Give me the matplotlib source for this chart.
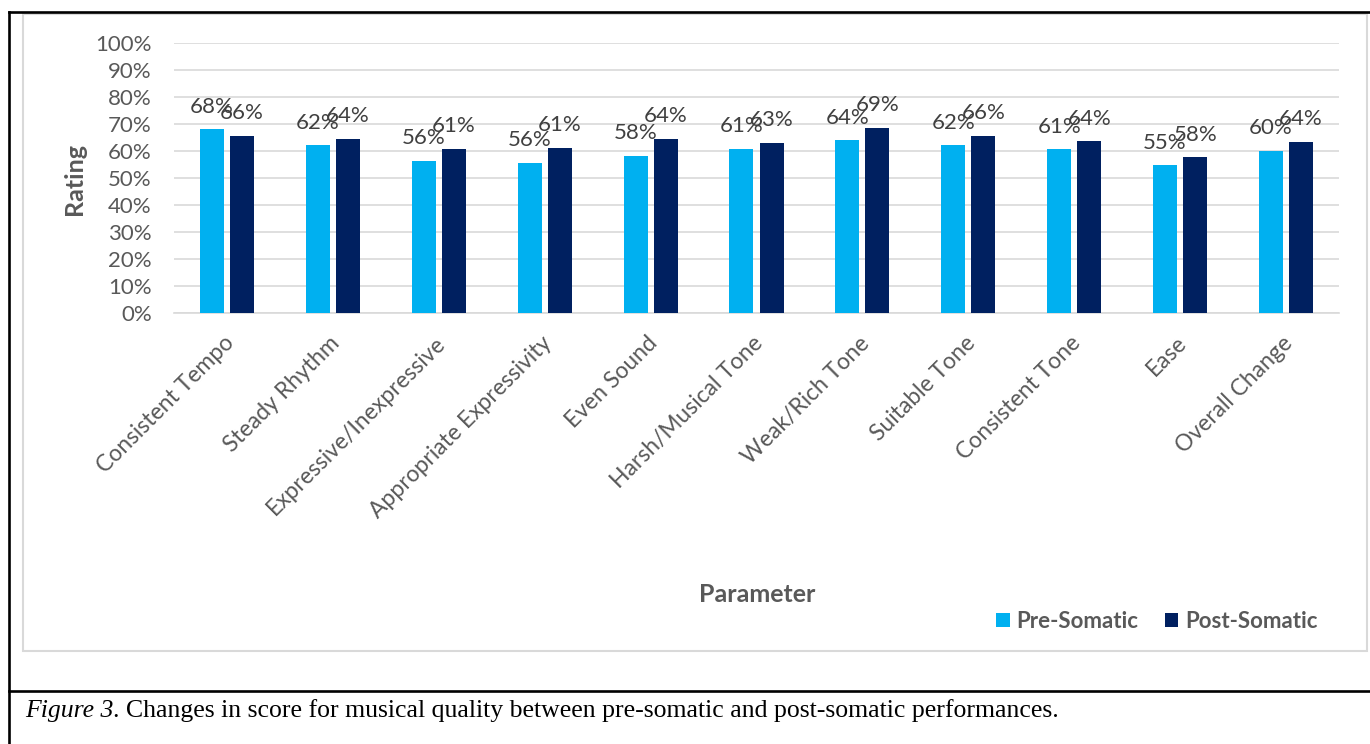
import matplotlib
matplotlib.use("Agg")
import matplotlib.pyplot as plt
import matplotlib.ticker as mticker
import matplotlib.transforms as mtrans
from matplotlib.patches import Patch, Rectangle
from matplotlib.lines import Line2D
import numpy as np

# ── Dados ───────────────────────────────────────────────────────────────────
categorias = ["Consistent Tempo", "Steady Rhythm", "Expressive/Inexpressive",
              "Appropriate Expressivity", "Even Sound", "Harsh/Musical Tone",
              "Weak/Rich Tone", "Suitable Tone", "Consistent Tone", "Ease",
              "Overall Change"]
pre_somatic = [0.680, 0.621, 0.563, 0.557, 0.583, 0.607, 0.640, 0.621, 0.606, 0.547, 0.601]
post_somatic = [0.655, 0.644, 0.607, 0.611, 0.644, 0.630, 0.687, 0.657, 0.636, 0.577, 0.635]
serie_nomes = ["Pre-Somatic", "Post-Somatic"]

COR_PRE = "#00B0F0"
COR_POS = "#002060"
COR_TXT = "#595959"
COR_GRID = "#D9D9D9"

plt.rcParams.update({
    "font.family": ["Lato", "DejaVu Sans"],
    "text.color": COR_TXT,
})

W, H = 1370, 744
fig = plt.figure(figsize=(W / 100, H / 100), dpi=100)
fig.patch.set_facecolor("white")

# área do gráfico (pixels medidos na referência)
x0, x1, y_top, y_bot = 174, 1339, 43, 313
ax = fig.add_axes([x0 / W, 1 - y_bot / H, (x1 - x0) / W, (y_bot - y_top) / H])

x = np.arange(len(categorias))
larg = 0.227
desl = 0.142
b_pre = ax.bar(x - desl, pre_somatic, larg, color=COR_PRE, zorder=3)
b_pos = ax.bar(x + desl, post_somatic, larg, color=COR_POS, zorder=3)

# rótulos de dados
for barras, vals in ((b_pre, pre_somatic), (b_pos, post_somatic)):
    for bar, v in zip(barras, vals):
        ax.annotate(f"{v:.0%}", (bar.get_x() + bar.get_width() / 2, v),
                    xytext=(0, 12), textcoords="offset points",
                    ha="center", va="baseline", fontsize=16, color="#404040",
                    annotation_clip=False, zorder=5)

ax.set_xlim(-0.5, len(categorias) - 0.5)
ax.set_ylim(0, 1)
ax.yaxis.set_major_locator(mticker.MultipleLocator(0.1))
ax.yaxis.set_major_formatter(mticker.FuncFormatter(lambda v, _: f"{v:.0%}"))
ax.grid(axis="y", color=COR_GRID, linewidth=1.2, zorder=0)
ax.set_axisbelow(True)
for s in ("top", "right", "left"):
    ax.spines[s].set_visible(False)
ax.spines["bottom"].set_color(COR_GRID)
ax.spines["bottom"].set_linewidth(1.2)
ax.tick_params(axis="y", length=0, pad=16, labelsize=16, labelcolor=COR_TXT)
ax.tick_params(axis="x", length=0, pad=14, labelsize=16.5, labelcolor=COR_TXT)

ax.set_xticks(x)
ax.set_xticklabels(categorias, rotation=45, ha="right", va="top",
                   rotation_mode="anchor")
desloc = mtrans.ScaledTranslation(-4 / 100, 0, fig.dpi_scale_trans)
for lbl in ax.get_xticklabels():
    lbl.set_transform(lbl.get_transform() + desloc)

fig.text(74 / W, 1 - 179 / H, "Rating", rotation=90, ha="center", va="center",
         fontsize=18, fontweight="bold", color=COR_TXT)
fig.text(757 / W, 1 - 595 / H, "Parameter", ha="center", va="center",
         fontsize=18, fontweight="bold", color=COR_TXT)

handles = [Patch(facecolor=COR_PRE), Patch(facecolor=COR_POS)]
leg = fig.legend(handles, serie_nomes, loc="center", bbox_to_anchor=(1157 / W, 1 - 621 / H),
                 ncol=2, frameon=False, fontsize=16, handlelength=0.6, handleheight=0.6,
                 handletextpad=0.3, columnspacing=1.2, borderpad=0)
for t in leg.get_texts():
    t.set_fontweight("bold")
    t.set_color(COR_TXT)

# moldura cinza do gráfico e borda preta da tabela
fig.add_artist(Rectangle((23 / W, 1 - 651 / H), (1367 - 23) / W, (651 - 14) / H,
                         transform=fig.transFigure, fill=False, edgecolor=COR_GRID, linewidth=1.5))
preto = dict(color="black", linewidth=1.9, transform=fig.transFigure)
fig.add_artist(Line2D([9 / W, 9 / W], [0, 1 - 12 / H], **preto))
fig.add_artist(Line2D([9 / W, 1], [1 - 12 / H, 1 - 12 / H], **preto))
fig.add_artist(Line2D([9 / W, 1], [1 - 690.5 / H, 1 - 690.5 / H], **preto))

# legenda da figura
serif = ["Liberation Serif", "DejaVu Serif"]
t1 = fig.text(25 / W, 1 - 717 / H, "Figure 3", fontsize=18.5, style="italic",
              family=serif, color="black", va="baseline")
ax.annotate(". Changes in score for musical quality between pre-somatic and post-somatic performances.",
            xy=(1, 0), xycoords=t1, ha="left", va="bottom", fontsize=18.5,
            family=serif, color="black", annotation_clip=False)

fig.savefig("out.png", dpi=100, facecolor="white")
